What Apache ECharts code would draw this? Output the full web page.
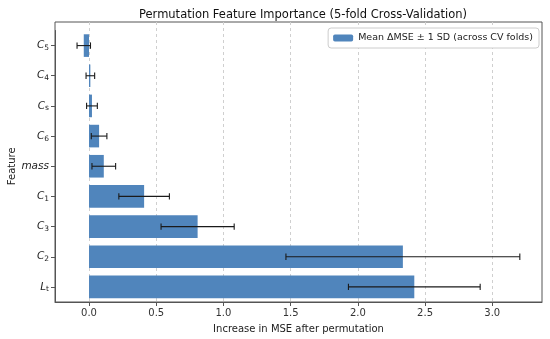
<!DOCTYPE html>
<html><head><meta charset="utf-8">
<script src="https://cdn.jsdelivr.net/npm/echarts@6/dist/echarts.min.js"></script>
<style>html,body{margin:0;padding:0;background:#fff}#c{width:550px;height:339px}</style>
</head><body><div id="c"></div>
<script>
const features = ['C_5','C_4','C_s','C_6','mass','C_1','C_3','C_2','L_t'];
const meanDelta = [-0.039, 0.010, 0.022, 0.075, 0.110, 0.410, 0.808, 2.335, 2.420];
const sdDelta   = [0.050, 0.032, 0.040, 0.058, 0.088, 0.188, 0.272, 0.870, 0.490];
const xTicks = [0, 0.5, 1.0, 1.5, 2.0, 2.5, 3.0];
const xMin = -0.253, xMax = 3.37;

const FONT = 'DejaVu Sans';
const chart = echarts.init(document.getElementById('c'), null, {renderer:'canvas'});
const gL = 55, gR = 8, gB = 37;
const errData = features.map((f,i)=>[i, meanDelta[i]-sdDelta[i], meanDelta[i]+sdDelta[i]]);

chart.setOption({
  animation:false,
  backgroundColor:'#fff',
  title:{text:'Permutation Feature Importance (5-fold Cross-Validation)', left:298, top:4, textAlign:'center',
    textStyle:{fontFamily:FONT, fontSize:11.5, fontWeight:'normal', color:'#111'}},
  legend:{data:['Mean ΔMSE ± 1 SD (across CV folds)'], right:11, top:28, itemWidth:20, itemHeight:7,
    padding:[5,6,5,5], borderColor:'#ccc', borderWidth:1, borderRadius:3, backgroundColor:'#fff',
    textStyle:{fontFamily:FONT, fontSize:9.5, color:'#222'}},
  grid:[
    {left:gL, right:gR, top:30.5, bottom:gB, containLabel:false, outerBoundsMode:'none'},
    {left:gL, right:gR, top:22, bottom:gB, show:true, borderColor:'#555', borderWidth:1, backgroundColor:'transparent', containLabel:false, outerBoundsMode:'none'}
  ],
  xAxis:[
    {gridIndex:0, type:'value', min:xMin, max:xMax, show:false},
    {gridIndex:1, type:'value', min:xMin, max:xMax,
     name:'Increase in MSE after permutation', nameLocation:'middle', nameGap:22, nameMoveOverlap:false,
     nameTextStyle:{fontFamily:FONT, fontSize:10, color:'#222'},
     axisLine:{show:true, lineStyle:{color:'#555'}},
     axisTick:{show:true, length:4, lineStyle:{color:'#555'}, customValues:xTicks},
     axisLabel:{fontFamily:FONT, fontSize:10, color:'#333', margin:6, customValues:xTicks,
       formatter:v=>v.toFixed(1)},
     splitLine:{show:true, lineStyle:{color:'#cfcfcf', type:[3,3], width:1}}}
  ],
  yAxis:[
    {gridIndex:0, type:'category', data:features, inverse:true,
     name:'Feature', nameLocation:'middle', nameGap:38, nameMoveOverlap:false,
     nameTextStyle:{fontFamily:FONT, fontSize:10, color:'#222'},
     axisLine:{show:true, onZero:false, lineStyle:{color:'#555'}},
     axisTick:{show:true, alignWithLabel:true, length:4, lineStyle:{color:'#555'}},
     axisLabel:{margin:6, formatter:v=>{
        if(v.indexOf('_')>=0){const p=v.split('_');return '{i|'+p[0]+'}{s|'+p[1]+'}';}
        return '{i|'+v+'}';},
       rich:{i:{fontFamily:FONT, fontStyle:'italic', fontSize:10.5, color:'#222', lineHeight:13},
             s:{fontFamily:FONT, fontSize:7.5, color:'#222', verticalAlign:'bottom', lineHeight:10}}},
     splitLine:{show:false}},
    {gridIndex:1, type:'value', show:false, min:0, max:1}
  ],
  series:[
    {name:'Mean ΔMSE ± 1 SD (across CV folds)', type:'bar', xAxisIndex:0, yAxisIndex:0,
     data:meanDelta, barWidth:'75%', itemStyle:{color:'#5085bc'}},
    {type:'custom', xAxisIndex:0, yAxisIndex:0, data:errData, z:5,
     renderItem:function(params, api){
       const y = api.value(0);
       const p1 = api.coord([api.value(1), y]);
       const p2 = api.coord([api.value(2), y]);
       const st = {stroke:'#1a1a1a', lineWidth:1.1};
       const h = 3.2;
       return {type:'group', children:[
         {type:'line', shape:{x1:p1[0], y1:p1[1], x2:p2[0], y2:p2[1]}, style:st},
         {type:'line', shape:{x1:p1[0], y1:p1[1]-h, x2:p1[0], y2:p1[1]+h}, style:st},
         {type:'line', shape:{x1:p2[0], y1:p2[1]-h, x2:p2[0], y2:p2[1]+h}, style:st}
       ]};
     }}
  ]
});
</script></body></html>
